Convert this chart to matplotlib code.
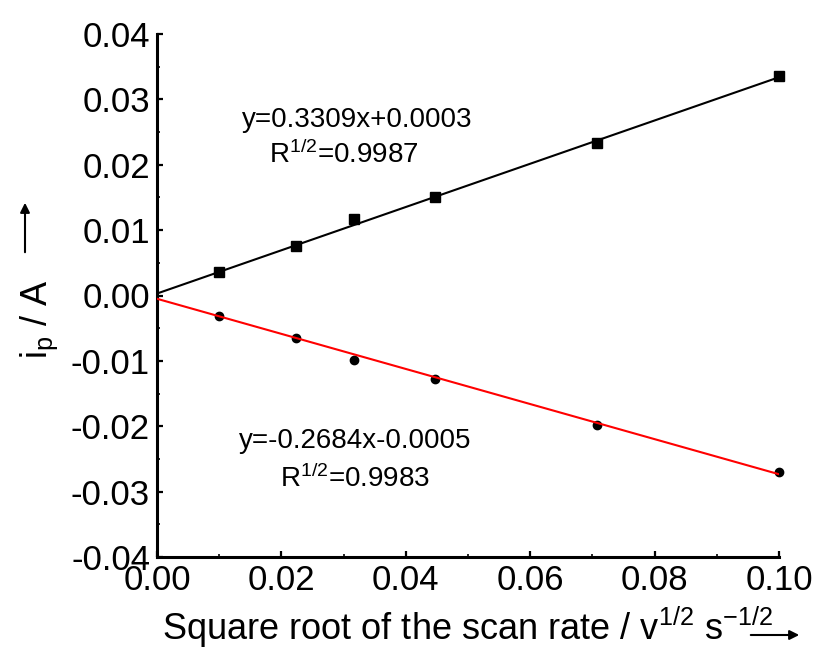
import matplotlib.pyplot as plt
from matplotlib.ticker import MultipleLocator, FormatStrFormatter

# data (square root of scan rate vs peak current)
akar_laju = [0.01, 0.0224, 0.0316, 0.0447, 0.0707, 0.1]
ip_anodik = [0.0036, 0.0076, 0.0117, 0.0150, 0.0234, 0.0336]
ip_katodik = [-0.0032, -0.0065, -0.0099, -0.0128, -0.0198, -0.0270]

# linear fit coefficients as printed on the chart
fit_x = [0.0, 0.1]
slope_a, intercept_a = 0.3309, 0.0003
slope_k, intercept_k = -0.2684, -0.0005

plt.rcParams['font.family'] = ['Liberation Sans', 'DejaVu Sans']
plt.rcParams['mathtext.fontset'] = 'custom'
plt.rcParams['mathtext.rm'] = 'Liberation Sans'
plt.rcParams['mathtext.it'] = 'Liberation Sans:italic'
plt.rcParams['axes.unicode_minus'] = False

fig = plt.figure(figsize=(8.18, 6.51), dpi=100)
ax = fig.add_axes([157 / 818, 1 - 557 / 651, (779 - 157) / 818, (557 - 34) / 651])

# garis fit
ax.plot(fit_x, [slope_a * x + intercept_a for x in fit_x], color='black', lw=1.5, zorder=3)
ax.plot(fit_x, [slope_k * x + intercept_k for x in fit_x], color='red', lw=1.5, zorder=3)

# titik data
ax.plot(akar_laju, ip_anodik, 's', color='black', ms=6.5, zorder=4, clip_on=False)
ax.plot(akar_laju, ip_katodik, 'o', color='black', ms=6, zorder=2, clip_on=False)

ax.set_xlim(0, 0.10)
ax.set_ylim(-0.04, 0.04)
ax.xaxis.set_major_locator(MultipleLocator(0.02))
ax.xaxis.set_minor_locator(MultipleLocator(0.01))
ax.yaxis.set_major_locator(MultipleLocator(0.01))
ax.yaxis.set_minor_locator(MultipleLocator(0.005))
ax.xaxis.set_major_formatter(FormatStrFormatter('%.2f'))
ax.yaxis.set_major_formatter(FormatStrFormatter('%.2f'))

for s in ['top', 'right']:
    ax.spines[s].set_visible(False)
for s in ['left', 'bottom']:
    ax.spines[s].set_linewidth(2.2)
    ax.spines[s].set_capstyle('projecting')

ax.tick_params(which='major', direction='in', length=4, width=1.6, labelsize=25, pad=5)
ax.tick_params(which='minor', direction='in', length=2.5, width=1.2)

# persamaan regresi
fs_eq = 20
ax.text(0.0322, 0.0258, 'y=0.3309x+0.0003', fontsize=fs_eq, ha='center', va='baseline')
ax.text(0.0301, 0.0203, r'R$^{1/2}$=0.9987', fontsize=fs_eq, ha='center', va='baseline')
ax.text(0.0318, -0.0233, 'y=-0.2684x-0.0005', fontsize=fs_eq, ha='center', va='baseline')
ax.text(0.0318, -0.0293, r'R$^{1/2}$=0.9983', fontsize=fs_eq, ha='center', va='baseline')

# label sumbu dengan panah
fig.text(468 / 818, 1 - 640 / 651, r'Square root of the scan rate / v$^{1/2}$ s$^{-1/2}$',
         fontsize=26, ha='center', va='baseline')
fig.text(39 / 818, 1 - 319 / 651, r'i$_\mathrm{p}$ / A', fontsize=26, rotation=90,
         ha='center', va='center')

ax.annotate('', xy=(802 / 818, 1 - 635 / 651), xytext=(748 / 818, 1 - 635 / 651),
            xycoords='figure fraction', textcoords='figure fraction',
            arrowprops=dict(arrowstyle='-|>', color='black', lw=1.5, mutation_scale=14))
ax.annotate('', xy=(25 / 818, 1 - 200 / 651), xytext=(25 / 818, 1 - 255 / 651),
            xycoords='figure fraction', textcoords='figure fraction',
            arrowprops=dict(arrowstyle='-|>', color='black', lw=1.5, mutation_scale=14))

plt.savefig('out.png', dpi=100)
